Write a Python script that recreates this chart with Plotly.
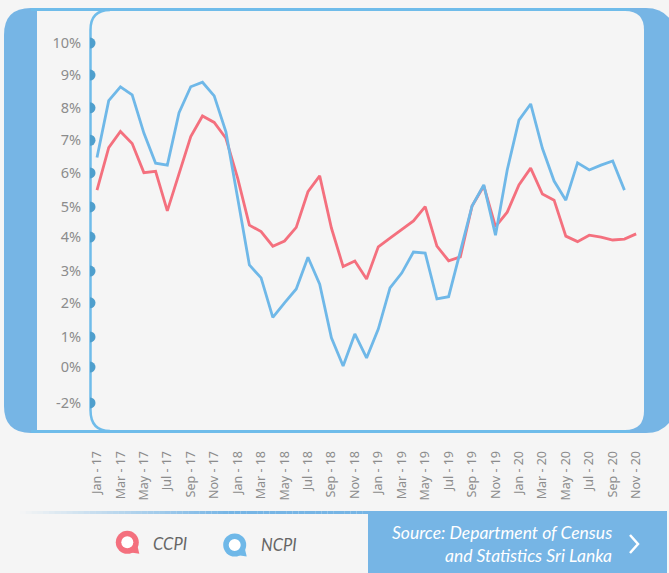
import plotly.graph_objects as go

months = ["Jan", "Feb", "Mar", "Apr", "May", "Jun", "Jul", "Aug", "Sep", "Oct", "Nov", "Dec"]
categories = [f"{m} - {yy}" for yy in ("17", "18", "19", "20") for m in months][:47]
x_tick_labels = categories[::2]

ccpi = [5.46, 6.77, 7.27, 6.90, 6.00, 6.04, 4.82, 5.93, 7.11, 7.75, 7.55, 7.06,
        5.83, 4.38, 4.18, 3.73, 3.89, 4.31, 5.41, 5.90, 4.29, 3.10, 3.27, 2.72,
        3.71, 3.98, 4.25, 4.51, 4.95, 3.73, 3.28, 3.40, 4.97, 5.59, 4.33, 4.78,
        5.62, 6.14, 5.34, 5.15, 4.04, 3.87, 4.07, 4.01, 3.92, 3.95, 4.11]
ncpi = [6.47, 8.22, 8.65, 8.40, 7.22, 6.29, 6.23, 7.85, 8.65, 8.79, 8.37, 7.26,
        5.22, 3.15, 2.75, 1.53, 1.98, 2.41, 3.39, 2.56, 0.90, 0.03, 1.02, 0.28,
        1.17, 2.44, 2.90, 3.55, 3.52, 2.10, 2.17, 3.55, 4.97, 5.62, 4.07, 6.08,
        7.62, 8.12, 6.75, 5.74, 5.15, 6.30, 6.08, 6.23, 6.36, 5.46, None]

# The source's y scale is hand-spaced, so tick positions differ slightly from their labels
y_tick_positions = [10, 9.01, 8.0, 7.0, 5.99, 4.94, 4.01, 2.96, 1.98, 0.93, 0, -1.11]
y_tick_labels = ["10%", "9%", "8%", "7%", "6%", "5%", "4%", "3%", "2%", "1%", "0%", "-2%"]

W, H = 669, 573
BG = "#f5f5f5"
BAND = "#76b5e5"
EDGE = "#6fbcea"
RED = "#f4707e"
BLUE = "#6fb8e8"
GRAY = "#8c8c8c"
FONT = "Noto Sans"


def px(x):
    return x / W


def py(y):
    return 1 - y / H


def P(x, y):
    return f"{x / W:.5f},{1 - y / H:.5f}"


def paper_shape(**kw):
    return dict(xref="paper", yref="paper", **kw)


def path(cmds):
    out = []
    for c in cmds:
        if len(c) == 1:
            out.append(c[0])
        else:
            pts = " ".join(P(c[i], c[i + 1]) for i in range(1, len(c), 2))
            out.append(f"{c[0]} {pts}")
    return " ".join(out)


shapes = []
# outer blue frame
shapes.append(paper_shape(type="path", layer="below", fillcolor=BAND, line_width=0, path=path([
    ("M", 31, 8), ("L", 646, 8), ("Q", 668, 8, 676, 30), ("L", 676, 410), ("Q", 668, 433, 646, 433),
    ("L", 31, 433), ("Q", 4, 433, 4, 406), ("L", 4, 35), ("Q", 4, 8, 31, 8), ("Z",)])))
# inner panel
shapes.append(paper_shape(type="path", layer="below", fillcolor=BG, line_width=0, path=path([
    ("M", 37, 11), ("L", 625, 11), ("Q", 644, 11, 644, 30), ("L", 644, 411), ("Q", 644, 430, 625, 430),
    ("L", 37, 430), ("Z",)])))
# top and bottom rules, slightly lighter than the band
shapes.append(paper_shape(type="line", layer="below", x0=px(31), x1=px(630), y0=py(9.5), y1=py(9.5),
                          line=dict(color=EDGE, width=3)))
shapes.append(paper_shape(type="line", layer="below", x0=px(31), x1=px(630), y0=py(431.5), y1=py(431.5),
                          line=dict(color=EDGE, width=3)))
# curved inner axis line
shapes.append(paper_shape(type="path", layer="below", line=dict(color=EDGE, width=2.5), path=path([
    ("M", 110, 10), ("Q", 90.5, 10, 90.5, 30), ("L", 90.5, 410), ("Q", 90.5, 431, 110, 431)])))
# footer rule with gradient
n = 60
for i in range(n):
    a = 20 + (368 - 20) * i / n
    b = 20 + (368 - 20) * (i + 1) / n
    shapes.append(paper_shape(type="rect", layer="below", x0=px(a), x1=px(b), y0=py(511), y1=py(514),
                              fillcolor=BAND, opacity=min(1, (i + 0.5) / (n * 0.6)), line_width=0))
# source banner
shapes.append(paper_shape(type="rect", layer="below", x0=px(368), x1=px(667), y0=py(511), y1=py(573),
                          fillcolor=BAND, line_width=0))
shapes.append(paper_shape(type="path", line=dict(color="white", width=2.5), path=path([
    ("M", 630, 535), ("L", 638, 544), ("L", 630, 553)])))


def pin(cx, cy, color):
    r = 11.5
    rx, ry = r / W, r / H
    shapes.append(paper_shape(type="circle", layer="below", x0=px(cx) - rx, x1=px(cx) + rx,
                              y0=py(cy) - ry, y1=py(cy) + ry, fillcolor=color, line_width=0))
    shapes.append(paper_shape(type="path", layer="below", fillcolor=color, line_width=0, path=path([
        ("M", cx + 10, cy + 3), ("L", cx + 12, cy + 11.5), ("L", cx + 2, cy + 10), ("Z",)])))
    h = 6
    hx, hy = h / W, h / H
    shapes.append(paper_shape(type="circle", layer="below", x0=px(cx) - hx, x1=px(cx) + hx,
                              y0=py(cy) - hy, y1=py(cy) + hy, fillcolor="white", line_width=0))


pin(127.3, 542.3, RED)
pin(234.7, 545, BLUE)

annotations = [
    dict(text="CCPI", x=px(150.5), y=py(544), xanchor="left", yanchor="middle"),
    dict(text="NCPI", x=px(258.5), y=py(545), xanchor="left", yanchor="middle"),
    dict(text="Source: Department of Census", x=px(614), y=py(532), xanchor="right", yanchor="middle"),
    dict(text="and Statistics Sri Lanka", x=px(614), y=py(555), xanchor="right", yanchor="middle"),
]
for i, a in enumerate(annotations):
    a.update(xref="paper", yref="paper", showarrow=False)
    a["font"] = dict(family="Lato", size=16.5 if i < 2 else 17.5, color="#666666" if i < 2 else "white",
                     style="italic")

fig = go.Figure()
fig.add_trace(go.Scatter(x=categories, y=ccpi, mode="lines", name="CCPI",
                         line=dict(color=RED, width=2.8)))
fig.add_trace(go.Scatter(x=categories, y=ncpi, mode="lines", name="NCPI",
                         line=dict(color=BLUE, width=2.8)))
fig.add_trace(go.Scatter(x=[0] * len(y_tick_positions), y=y_tick_positions, xaxis="x2", mode="markers",
                         marker=dict(color="#4f9fcd", size=11), showlegend=False, cliponaxis=True))

fig.update_layout(
    width=W, height=H, paper_bgcolor=BG, plot_bgcolor="rgba(0,0,0,0)",
    margin=dict(l=0, r=0, t=0, b=0), autosize=False, showlegend=False,
    shapes=shapes, annotations=annotations,
    xaxis=dict(domain=[px(90), px(644)], type="category", categoryorder="array", categoryarray=categories,
               range=[-0.597, 46.67], tickmode="array", tickvals=x_tick_labels, ticktext=x_tick_labels,
               tickangle=-90, showgrid=False, zeroline=False, showline=False, automargin=False,
               ticks="outside", ticklen=14, tickcolor="rgba(0,0,0,0)",
               tickfont=dict(family=FONT, size=12.5, color=GRAY)),
    xaxis2=dict(domain=[px(90), px(644)], overlaying="x", range=[0, 1], visible=False, anchor="y",
                automargin=False),
    yaxis=dict(domain=[py(431), py(10)], range=[-1.975, 11.02], tickmode="array",
               tickvals=y_tick_positions, ticktext=y_tick_labels,
               showgrid=False, zeroline=False, showline=False, automargin=False,
               ticks="outside", ticklen=5, tickcolor="rgba(0,0,0,0)",
               tickfont=dict(family=FONT, size=14.5, color=GRAY)),
)

fig.write_html("out.html", config={"displayModeBar": False},
               post_script="document.body.style.margin='0';document.documentElement.style.overflow='hidden';")
